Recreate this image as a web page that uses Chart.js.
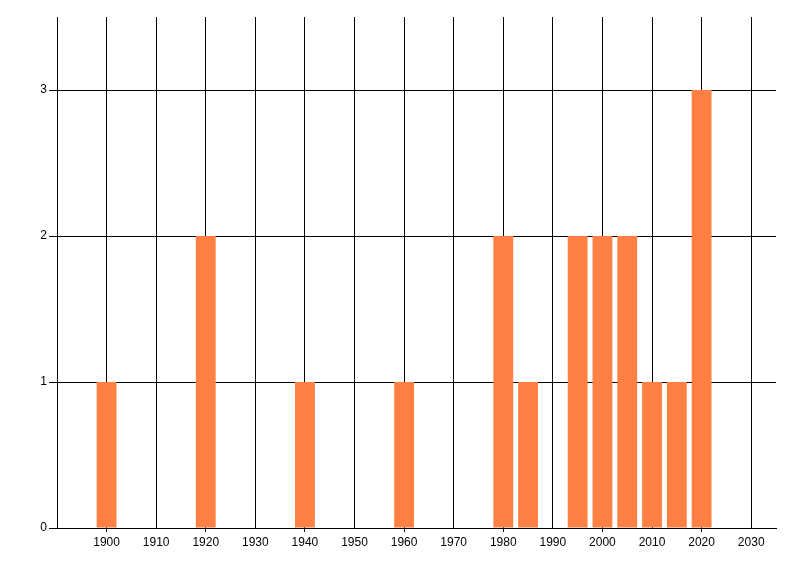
<!DOCTYPE html>
<html>
<head>
<meta charset="utf-8">
<script src="https://cdn.jsdelivr.net/npm/chart.js@4/dist/chart.umd.min.js"></script>
<style>
  html, body { margin: 0; padding: 0; background: #fff; }
  #wrap { width: 800px; height: 576px; }
</style>
</head>
<body>
<div id="wrap"><canvas id="chart"></canvas></div>
<script>
// Werte
const years = [1900, 1920, 1940, 1960, 1980, 1985, 1995, 2000, 2005, 2010, 2015, 2020];
const counts = [1, 2, 1, 1, 2, 1, 2, 2, 2, 1, 1, 3];
const xTicks = [1900, 1910, 1920, 1930, 1940, 1950, 1960, 1970, 1980, 1990, 2000, 2010, 2020, 2030];
const yTicks = [0, 1, 2, 3];

const points = years.map((y, i) => ({ x: y, y: counts[i] }));

const ctx = document.getElementById("chart").getContext("2d");

new Chart(ctx, {
    type: "bar",
    data: {
        datasets: [{
            data: points,
            backgroundColor: "#FF8042",
            borderWidth: 0,
            barPercentage: 1,
            categoryPercentage: 0.8
        }]
    },
    options: {
        responsive: true,
        maintainAspectRatio: false,
        animation: false,
        layout: { padding: { top: 17, right: 24, left: 0, bottom: 0 } },
        plugins: {
            legend: { display: false },
            tooltip: { enabled: false }
        },
        scales: {
            x: {
                type: "linear",
                min: 1890,
                max: 2035,
                offset: false,
                afterBuildTicks: scale => { scale.ticks = xTicks.map(v => ({ value: v })); },
                afterFit: scale => { scale.height = 48; },
                grid: {
                    offset: false,
                    color: "#000",
                    lineWidth: 1,
                    tickLength: 4,
                    // nur jede zweite Dekade hat einen Strich unter der Achse
                    tickColor: c => (c.tick && (c.tick.value - 1900) % 20 === 0) ? "#000" : "rgba(0,0,0,0)"
                },
                border: { color: "#000", width: 1 },
                ticks: {
                    color: "#000",
                    padding: 3,
                    maxRotation: 0,
                    autoSkip: false,
                    callback: v => String(v),
                    font: { family: "Liberation Sans", size: 12 }
                }
            },
            y: {
                min: 0,
                max: 3.5,
                afterBuildTicks: scale => { scale.ticks = yTicks.map(v => ({ value: v })); },
                afterFit: scale => { scale.width = 57; },
                grid: {
                    color: "#000",
                    lineWidth: 1,
                    tickLength: 8,
                    tickColor: "#000"
                },
                border: { color: "#000", width: 1 },
                ticks: {
                    color: "#000",
                    padding: 2,
                    callback: v => String(v),
                    font: { family: "Liberation Sans", size: 12 }
                }
            }
        }
    }
});
</script>
</body>
</html>
